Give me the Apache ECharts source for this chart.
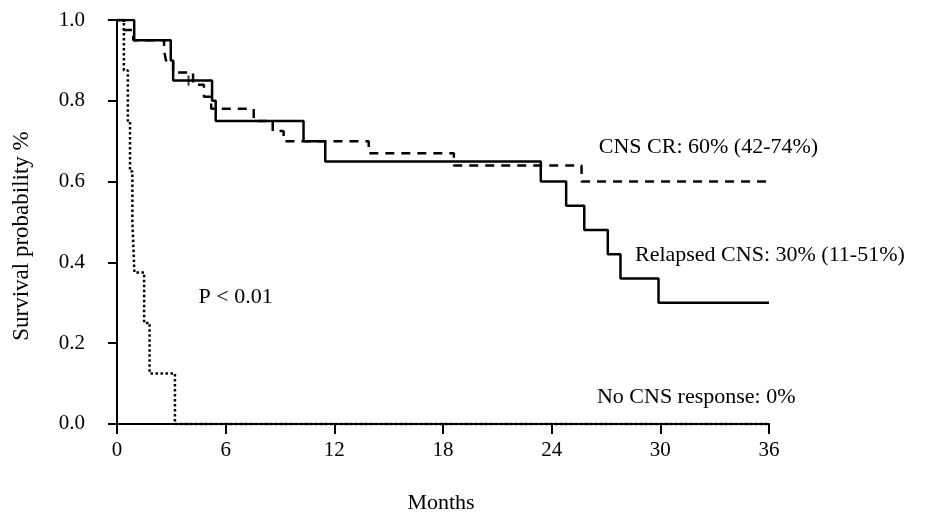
<!DOCTYPE html>
<html>
<head>
<meta charset="utf-8">
<script src="https://cdn.jsdelivr.net/npm/echarts@6/dist/echarts.min.js"></script>
<style>html,body{margin:0;padding:0;background:#fff}#c{width:932px;height:519px}</style>
</head>
<body>
<div id="c"></div>
<script>
// Relapsed CNS (solid)
const relapsedT = [0, 0.95, 2.97, 3.1, 5.25, 5.45, 10.3, 11.5, 23.4, 24.8, 25.8, 27.1, 27.8, 29.9, 36];
const relapsedS = [1.0, 0.95, 0.90, 0.85, 0.80, 0.75, 0.70, 0.65, 0.60, 0.54, 0.48, 0.42, 0.36, 0.30, 0.30];
// CNS CR (dashed)
const crT = [0, 0.38, 0.9, 2.6, 2.7, 3.1, 4.2, 4.8, 5.2, 7.55, 8.6, 9.2, 13.9, 18.6, 25.65, 36];
const crS = [1.0, 0.975, 0.95, 0.925, 0.90, 0.87, 0.84, 0.81, 0.78, 0.75, 0.725, 0.70, 0.67, 0.64, 0.60, 0.60];
// No CNS response (dotted)
const noT = [0, 0.38, 0.6, 0.72, 0.85, 0.96, 1.5, 1.8, 3.2, 36];
const noS = [1.0, 0.875, 0.75, 0.625, 0.5, 0.375, 0.25, 0.125, 0, 0];
// censor marks on solid curve
const censorT = [3.95];
const censorS = [0.85];

const xTicks = [0, 6, 12, 18, 24, 30, 36];
const yTicks = [0, 0.2, 0.4, 0.6, 0.8, 1.0];

const annotations = [
  {text: 'CNS CR: 60% (42-74%)', t: 26.6, s: 0.684},
  {text: 'Relapsed CNS: 30% (11-51%)', t: 28.6, s: 0.418},
  {text: 'P < 0.01', t: 4.5, s: 0.313},
  {text: 'No CNS response: 0%', t: 26.5, s: 0.065}
];

const FONT = 'Liberation Serif';
const zip = (a, b) => a.map((v, i) => [v, b[i]]);

const chart = echarts.init(document.getElementById('c'), null, {renderer: 'canvas'});
chart.setOption({
  backgroundColor: '#fff',
  animation: false,
  grid: {left: 113, right: 163, top: 20, bottom: 91, containLabel: false},
  xAxis: {
    type: 'value', min: -0.22, max: 36,
    name: 'Months', nameLocation: 'middle', nameGap: 64,
    nameTextStyle: {fontFamily: FONT, fontSize: 22, color: '#000'},
    axisLine: {show: true, lineStyle: {color: '#000', width: 2}},
    axisTick: {show: true, customValues: xTicks, length: 10, lineStyle: {color: '#000', width: 2}},
    axisLabel: {customValues: xTicks, margin: 12, fontFamily: FONT, fontSize: 21, color: '#000'},
    splitLine: {show: false}
  },
  yAxis: {
    type: 'value', min: -0.01, max: 1.0,
    name: 'Survival probability %', nameLocation: 'middle', nameGap: 80, nameRotate: 90,
    nameTextStyle: {fontFamily: FONT, fontSize: 23, color: '#000', padding: [0, 24, 0, 0]},
    axisLine: {show: true, lineStyle: {color: '#000', width: 2}},
    axisTick: {show: true, customValues: yTicks, length: 9, lineStyle: {color: '#000', width: 2}},
    axisLabel: {customValues: yTicks, margin: 28, fontFamily: FONT, fontSize: 21, color: '#000',
      formatter: v => v.toFixed(1)},
    splitLine: {show: false}
  },
  series: [
    {type: 'line', name: 'No CNS response', step: 'end', data: zip(noT, noS), showSymbol: false,
     lineStyle: {color: '#000', width: 2.5, type: [2.5, 2.5]}},
    {type: 'line', name: 'CNS CR', step: 'end', data: zip(crT, crS), showSymbol: false,
     lineStyle: {color: '#000', width: 2.5, type: [9, 7]}},
    {type: 'line', name: 'Relapsed CNS', step: 'end', data: zip(relapsedT, relapsedS), showSymbol: false,
     lineStyle: {color: '#000', width: 2.5}},
    {type: 'scatter', data: zip(censorT, censorS), symbol: 'rect', symbolSize: [2, 10],
     itemStyle: {color: '#000'}}
  ]
});

chart.setOption({
  graphic: annotations.map(a => {
    const p = chart.convertToPixel({gridIndex: 0}, [a.t, a.s]);
    return {type: 'text', x: p[0], y: p[1],
      style: {text: a.text, fontFamily: FONT, fontSize: 22, fill: '#000', textAlign: 'left', textVerticalAlign: 'middle'}};
  })
});
</script>
</body>
</html>
